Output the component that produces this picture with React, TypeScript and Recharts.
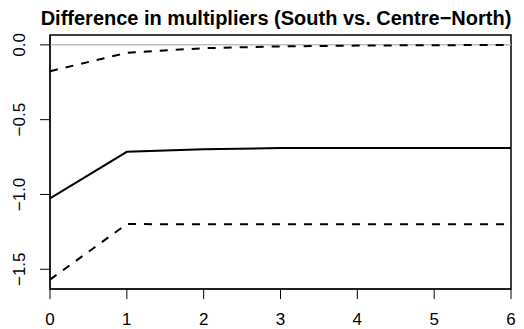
import React from "react";
import {
  LineChart,
  Line,
  XAxis,
  YAxis,
  ReferenceLine,
  ReferenceArea,
} from "recharts";

// horizon (quarters after the shock)
const steps = [0, 1, 2, 3, 4, 5, 6];
// point estimate of the difference and its confidence band
const diff = [-1.027, -0.715, -0.697, -0.69, -0.689, -0.689, -0.689];
const upper = [-0.176, -0.053, -0.022, -0.01, -0.005, -0.002, -0.001];
const lower = [-1.569, -1.198, -1.199, -1.199, -1.199, -1.199, -1.199];

const xTicks = [0, 1, 2, 3, 4, 5, 6];
const yTicks = [0, -0.5, -1, -1.5];
const yDomain: [number, number] = [-1.632, 0.066];

const data = steps.map((s, i) => ({
  step: s,
  diff: diff[i],
  upper: upper[i],
  lower: lower[i],
}));

const FONT = "'Liberation Sans', Arial, Helvetica, sans-serif";

const W = 524;
const H = 329;
const M = { top: 35, right: 13, bottom: 0, left: 0 };
const Y_AXIS_W = 50;
const X_AXIS_H = 40;

const fmtY = (v: number) => (v < 0 ? "\u2212" + Math.abs(v).toFixed(1) : v.toFixed(1));

// y labels in R style: rotated, reading bottom to top
function RotatedTick(props: any) {
  const { x, y, payload } = props;
  return (
    <text
      x={x}
      y={y}
      transform={`rotate(-90, ${x}, ${y})`}
      textAnchor="middle"
      fontSize={17}
      fontFamily={FONT}
      fill="#000"
    >
      {fmtY(payload.value)}
    </text>
  );
}

export default function App() {
  return (
    <div style={{ position: "absolute", left: 0, top: 0, width: W, height: H, background: "#fff" }}>
      <div
        style={{
          position: "absolute",
          left: 0,
          width: 552,
          top: 7,
          textAlign: "center",
          fontFamily: FONT,
          fontWeight: "bold",
          fontSize: 20,
          color: "#000",
          whiteSpace: "nowrap",
        }}
      >
        Difference in multipliers (South vs. Centre{"\u2212"}North)
      </div>
      <LineChart width={W} height={H} data={data} margin={M}>
        <XAxis
          dataKey="step"
          type="number"
          domain={[0, 6]}
          ticks={xTicks}
          tickSize={10}
          tickMargin={14}
          height={X_AXIS_H}
          stroke="#000"
          tick={{ fill: "#000", fontSize: 17, fontFamily: FONT }}
          allowDataOverflow
        />
        <YAxis
          type="number"
          domain={yDomain}
          ticks={yTicks}
          tickSize={10}
          tickMargin={15}
          width={Y_AXIS_W}
          stroke="#000"
          tick={<RotatedTick />}
          allowDataOverflow
        />
        {/* box around the plotting region */}
        <ReferenceArea
          x1={0}
          x2={6}
          y1={yDomain[0]}
          y2={yDomain[1]}
          fill="#ffffff"
          fillOpacity={0}
          stroke="#000000"
          strokeOpacity={1}
          strokeWidth={1.5}
          ifOverflow="extendDomain"
        />
        <ReferenceLine y={0} stroke="#bebebe" strokeWidth={1.5} />
        <Line
          type="linear"
          dataKey="upper"
          stroke="#000"
          strokeWidth={2}
          strokeDasharray="8 8"
          dot={false}
          isAnimationActive={false}
        />
        <Line
          type="linear"
          dataKey="diff"
          stroke="#000"
          strokeWidth={2}
          dot={false}
          isAnimationActive={false}
        />
        <Line
          type="linear"
          dataKey="lower"
          stroke="#000"
          strokeWidth={2}
          strokeDasharray="8 8"
          dot={false}
          isAnimationActive={false}
        />
      </LineChart>
    </div>
  );
}
